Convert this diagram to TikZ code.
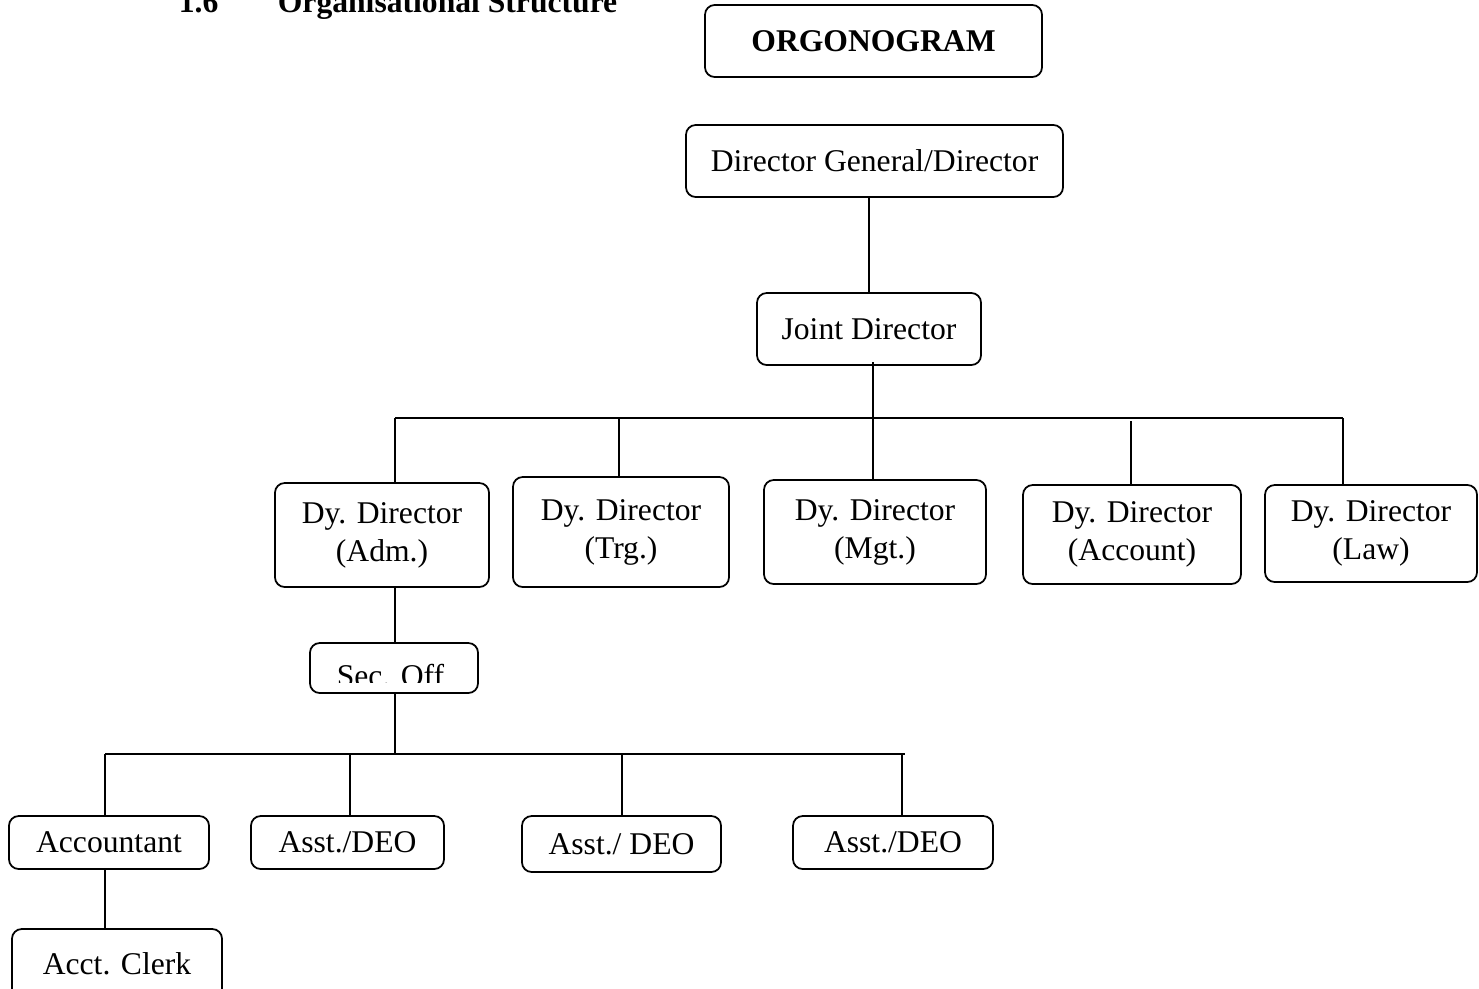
\documentclass[tikz,border=0pt]{standalone}
\usepackage{fontspec}
\setmainfont{Liberation Serif}
\begin{document}
\begin{tikzpicture}[x=0.02cm, y=-0.02cm, line width=1pt]
    \tikzstyle{every node}+=[inner sep=0pt, font=\fontsize{18}{21.6}\selectfont, align=center]
    \tikzstyle{box}=[draw, rounded corners=5.5pt]
    \useasboundingbox (0,0) rectangle (1479,988);
    % heading
    \node [anchor=base west] (secno) at (178,12) {\bfseries 1.6};
    \node [anchor=base west] (sectitle) at (277,12) {\bfseries Organisational Structure};
    \node [box, minimum width=337*0.02cm, minimum height=72*0.02cm] (orgono) at (873.5,41) {\bfseries ORGONOGRAM};
    % top levels
    \node [box, minimum width=377*0.02cm, minimum height=72*0.02cm] (dg) at (874.5,161) {Director General/Director};
    \node [box, minimum width=224*0.02cm, minimum height=72*0.02cm] (jd) at (869,329) {Joint Director};
    \node [box, minimum width=214*0.02cm, minimum height=104*0.02cm] (adm) at (382,535) {Dy. Director\\(Adm.)};
    \node [box, minimum width=216*0.02cm, minimum height=110*0.02cm] (trg) at (621,532) {Dy. Director\\(Trg.)};
    \node [box, minimum width=222*0.02cm, minimum height=104*0.02cm] (mgt) at (875,532) {Dy. Director\\(Mgt.)};
    \node [box, minimum width=218*0.02cm, minimum height=99*0.02cm] (acc) at (1132,534.5) {Dy. Director\\(Account)};
    \node [box, minimum width=212*0.02cm, minimum height=97*0.02cm] (law) at (1371,533.5) {Dy. Director\\(Law)};
    % section office
    \node [box, minimum width=168*0.02cm, minimum height=50*0.02cm] (sec) at (394,668) {};
    \begin{scope}
    \clip (310,643) rectangle (478,682);
    \node [anchor=base] (sectext) at (390.5,686) {Sec. Off};
    \end{scope}
    \node [box, minimum width=200*0.02cm, minimum height=53*0.02cm] (accountant) at (109,842.5) {Accountant};
    \node [box, minimum width=193*0.02cm, minimum height=53*0.02cm] (deoa) at (347.5,842.5) {Asst./DEO};
    \node [box, minimum width=199*0.02cm, minimum height=56*0.02cm] (deob) at (621.5,844) {Asst./ DEO};
    \node [box, minimum width=200*0.02cm, minimum height=53*0.02cm] (deoc) at (893,842.5) {Asst./DEO};
    \node [box, minimum width=210*0.02cm, minimum height=70*0.02cm] (clerk) at (117,964) {Acct. Clerk};
    % bus lines
    \coordinate (busw) at (395,418);
    \coordinate (buse) at (1343,418);
    \coordinate (dtrg) at (619,418);
    \coordinate (dmgt) at (873,418);
    \coordinate (dacc) at (1131,421);
    \coordinate (lbusw) at (105,754);
    \coordinate (lbuse) at (905,754);
    \coordinate (ddeoa) at (350,754);
    \coordinate (ddeob) at (622,754);
    \coordinate (ddeoc) at (902,754);
    % connectors
    \draw (jd.north) -- (jd.north |- dg.south);
    \draw ([yshift=2pt]dmgt |- jd.south) -- (dmgt |- mgt.north);
    \draw (busw) -- (buse);
    \draw (busw) -- (busw |- adm.north);
    \draw (dtrg) -- (dtrg |- trg.north);
    \draw (dacc) -- (dacc |- acc.north);
    \draw (buse) -- (buse |- law.north);
    \draw (busw |- adm.south) -- (busw |- sec.north);
    \draw (busw |- sec.south) -- (busw |- lbusw);
    \draw (lbusw) -- (lbuse);
    \draw (lbusw) -- (lbusw |- accountant.north);
    \draw (ddeoa) -- (ddeoa |- deoa.north);
    \draw (ddeob) -- (ddeob |- deob.north);
    \draw (ddeoc) -- (ddeoc |- deoc.north);
    \draw ([yshift=1pt]lbusw |- accountant.south) -- (lbusw |- clerk.north);
\end{tikzpicture}
\end{document}
